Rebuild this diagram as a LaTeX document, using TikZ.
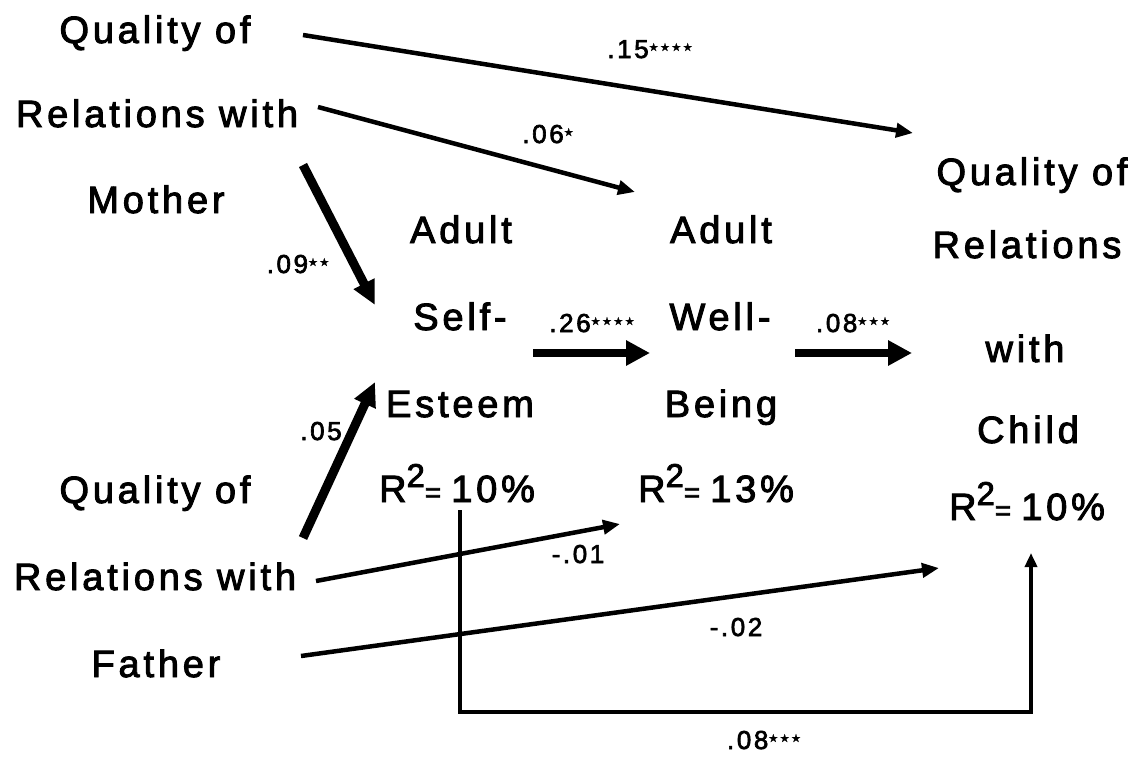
\documentclass[tikz,border=0pt]{standalone}
\usepackage{fontspec}
\setmainfont{Liberation Sans}[LetterSpace=10,FakeBold=2.5]
\newfontfamily\starfont{DejaVu Sans}[FakeBold=1]
\usetikzlibrary{arrows.meta}
\newcommand\sk{{\starfont\fontsize{11}{11}\selectfont\raisebox{7pt}{★}}\hspace{1.5pt}}
\newcommand\rsq[1]{R\raisebox{15pt}{\fontsize{33}{33}\selectfont 2}{\fontsize{28}{28}\selectfont =}\hspace{10pt}#1}
\begin{document}
\begin{tikzpicture}[x=1pt,y=-1pt,
  lbl/.style={font=\fontsize{38}{40}\selectfont,anchor=base,inner sep=0pt},
  num/.style={font=\fontsize{26}{28}\selectfont,anchor=base,inner sep=0pt},
  thinarr/.style={line width=4.5pt,-{Triangle[length=17pt,width=14pt]}},
  thickarr/.style={line width=8pt,-{Triangle[length=24pt,width=24pt]}},
  diagarr/.style={line width=9pt,-{Triangle[length=24pt,width=22pt]}},
  boxline/.style={line width=4pt,-{Triangle[length=14pt,width=12pt]}}]
\useasboundingbox (0,0) rectangle (1143,756);
% Mother group
\node[lbl] (mq) at (155,43) {Quality of};
\node[lbl] (mr) at (157,127) {Relations with};
\node[lbl] (mm) at (156,213) {Mother};
% Father group
\node[lbl] (fq) at (155,503) {Quality of};
\node[lbl] (fr) at (155,590) {Relations with};
\node[lbl] (ff) at (156,677) {Father};
% Self-esteem
\node[lbl] (sa) at (461,243) {Adult};
\node[lbl] (ss) at (460,330) {Self-};
\node[lbl] (se) at (460,417) {Esteem};
\node[lbl] (sr) at (457,502) {\rsq{10\%}};
% Well-being
\node[lbl] (wa) at (721,243) {Adult};
\node[lbl] (ww) at (720,330) {Well-};
\node[lbl] (wb) at (721,417) {Being};
\node[lbl] (wr) at (716,502) {\rsq{13\%}};
% Child
\node[lbl] (cq) at (1032,185) {Quality of};
\node[lbl] (cr) at (1027,258) {Relations};
\node[lbl] (cw) at (1025,362) {with};
\node[lbl] (cc) at (1028,443) {Child};
\node[lbl] (crr) at (1027,520) {\rsq{10\%}};
% connectors
\draw[thinarr] ([shift={(148,-8)}]mq.base) -- ([shift={(-119,-52)}]cq.base);
\draw[thinarr] ([shift={(161,-20)}]mr.base) -- ([shift={(-86,-51)}]wa.base);
\draw[diagarr] ([shift={(146,38)}]mr.base) -- ([shift={(-85,-25)}]ss.base);
\draw[diagarr] ([shift={(148,35)}]fq.base) -- ([shift={(-85,-35)}]se.base);
\draw[thickarr] ([shift={(73,23)}]ss.base) -- ([shift={(-70,23)}]ww.base);
\draw[thickarr] ([shift={(75,23)}]ww.base) -- ([shift={(-113,-9)}]cw.base);
\draw[thinarr] ([shift={(161,-9)}]fr.base) -- ([shift={(-96,22)}]wr.base);
\draw[thinarr] ([shift={(145,-21)}]ff.base) -- ([shift={(-88,48)}]crr.base);
\draw[boxline] ([shift={(3,8)}]sr.base) |- (1031,712) -- ([shift={(4,33)}]crr.base);
% labels
\node[num] (l15) at (650,58) {.15\sk\sk\sk\sk};
\node[num] (l06) at (548,143) {.06\sk};
\node[num] (l09) at (298,273) {.09\sk\sk};
\node[num] (l05) at (321,440) {.05};
\node[num] (l26) at (592,332) {.26\sk\sk\sk\sk};
\node[num] (l08) at (853,332) {.08\sk\sk\sk};
\node[num] (l01) at (578,563) {-.01};
\node[num] (l02) at (736,636) {-.02};
\node[num] (l08b) at (764,749) {.08\sk\sk\sk};
\end{tikzpicture}
\end{document}
